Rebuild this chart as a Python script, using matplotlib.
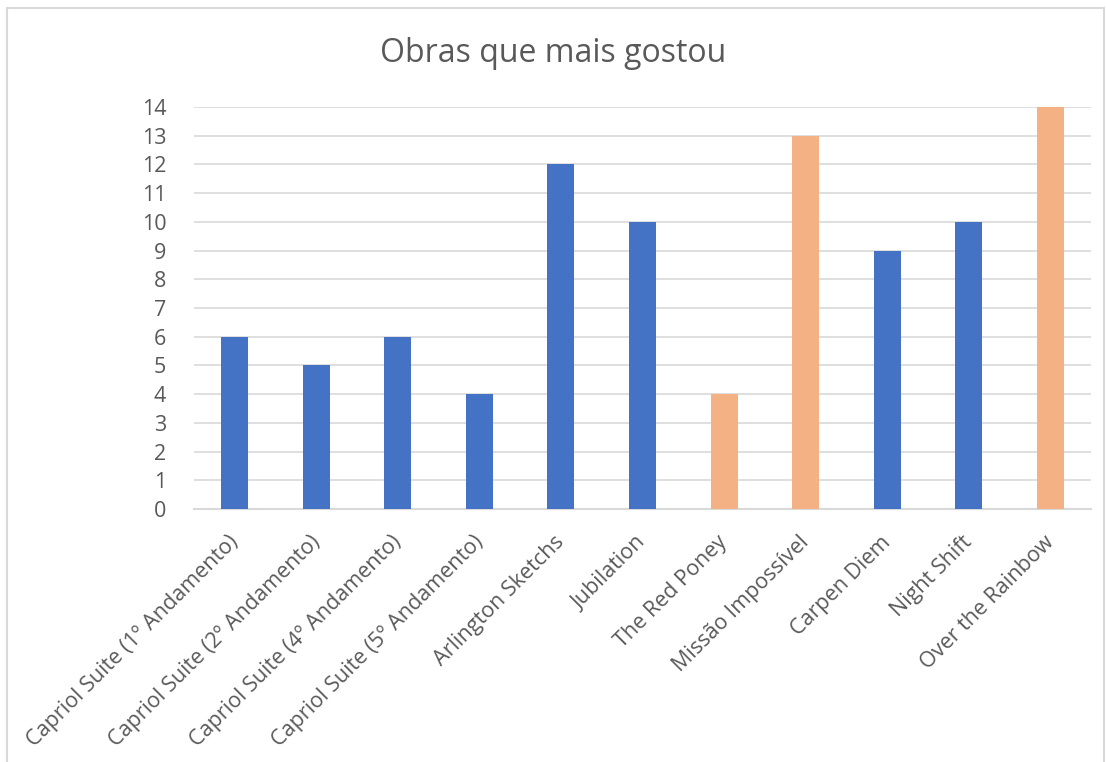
import matplotlib.pyplot as plt
import matplotlib.transforms as mtransforms
from matplotlib.patches import Rectangle

# dados do gráfico
obras = ['Capriol Suite (1º Andamento)', 'Capriol Suite (2º Andamento)',
         'Capriol Suite (4º Andamento)', 'Capriol Suite (5º Andamento)',
         'Arlington Sketchs', 'Jubilation', 'The Red Poney', 'Missão Impossível',
         'Carpen Diem', 'Night Shift', 'Over the Rainbow']
votos = [6, 5, 6, 4, 12, 10, 4, 13, 9, 10, 14]
grupo = ['a', 'a', 'a', 'a', 'a', 'a', 'b', 'b', 'a', 'a', 'b']

cores = {'a': '#4472C4', 'b': '#F4B183'}
plt.rcParams['font.family'] = ['Open Sans', 'DejaVu Sans']

fig = plt.figure(figsize=(11.07, 7.62), dpi=100)
ax = fig.add_axes([194 / 1107, 1 - 509 / 762, (1091 - 194) / 1107, (509 - 107) / 762])

x = range(len(obras))
ax.bar(x, votos, width=0.33, color=[cores[g] for g in grupo], zorder=3)

ax.set_xlim(-0.5, len(obras) - 0.5)
ax.set_ylim(0, 14)
ax.set_yticks(range(0, 15))
ax.grid(axis='y', color='#D9D9D9', linewidth=1.2, zorder=0)
for s in ['top', 'right', 'left']:
    ax.spines[s].set_visible(False)
ax.spines['bottom'].set_color('#D9D9D9')
ax.spines['bottom'].set_linewidth(1.5)
ax.tick_params(length=0, labelsize=15.5, labelcolor='#595959')
ax.tick_params(axis='y', pad=20)
ax.set_xticks(list(x))
ax.set_xticklabels(obras, rotation=45, ha='right', rotation_mode='anchor')
ax.tick_params(axis='x', pad=12)

# desloca um pouco os rótulos (como no Excel)
desloc = mtransforms.ScaledTranslation(-7 / 100, -6 / 100, fig.dpi_scale_trans)
for lbl in ax.get_xticklabels():
    lbl.set_transform(lbl.get_transform() + desloc)

fig.text(0.5, 1 - 54 / 762, 'Obras que mais gostou', ha='center', va='center',
         fontsize=23, color='#595959')

# moldura do gráfico
fig.patches.append(Rectangle((7 / 1107, -0.01), 1097 / 1107, 1 - 8 / 762 + 0.01,
                             transform=fig.transFigure, fill=False,
                             edgecolor='#D9D9D9', linewidth=1.5))

fig.savefig('out.png', dpi=100)
